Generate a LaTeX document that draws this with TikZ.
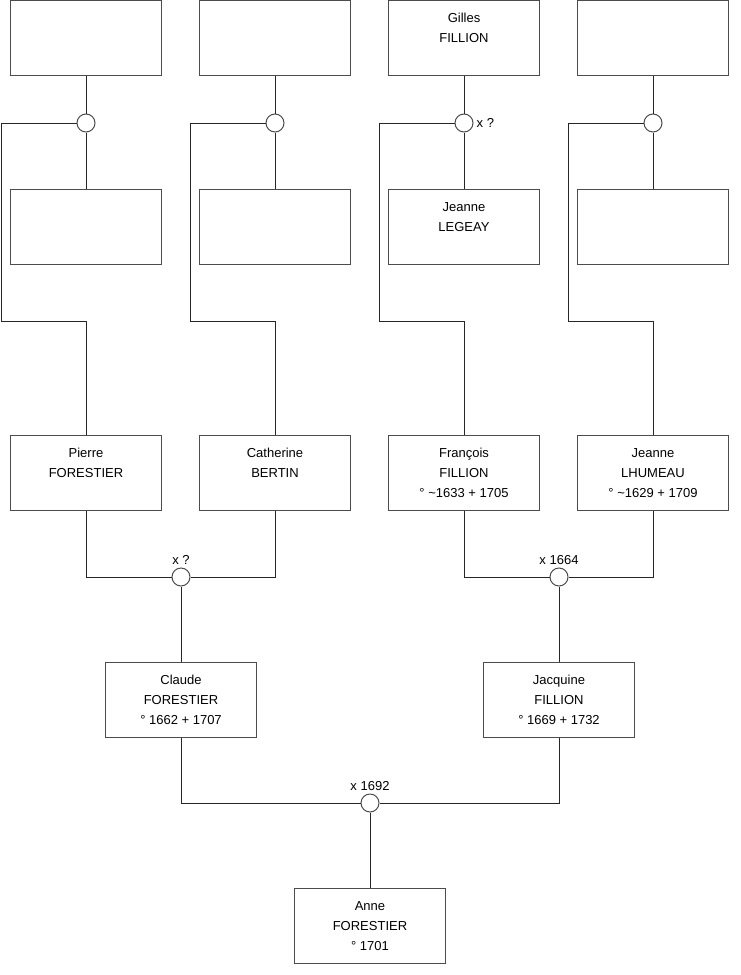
\documentclass[tikz,border=0pt]{standalone}
\usepackage{fontspec}
\setmainfont{Liberation Sans}
\usetikzlibrary{positioning}

\begin{document}
\begin{tikzpicture}[x=1pt,y=-1pt,
  person/.style={draw=black!70,line width=1pt,minimum width=151pt,minimum height=75pt,
    font=\fontsize{13}{20}\selectfont,align=center,inner sep=0pt},
  union/.style={circle,draw=black!70,fill=white,line width=1pt,minimum size=18pt,inner sep=0pt},
  link/.style={line width=1pt,black!85},
  wed/.style={font=\fontsize{13}{15}\selectfont,inner sep=3pt}
]
  \useasboundingbox (0,0) rectangle (740,975);
  % Great-grandparents
  \node[person] (g1) at (86,38) {};
  \node[person] (g2) at (275,38) {};
  \node[person] (g3) at (464,38) {Gilles\\FILLION\\~};
  \node[person] (g4) at (653,38) {};
  \node[person] (w1) at (86,227) {};
  \node[person] (w2) at (275,227) {};
  \node[person] (w3) at (464,227) {Jeanne\\LEGEAY\\~};
  \node[person] (w4) at (653,227) {};
  \node[union] (m1) at (86,123) {};
  \node[union] (m2) at (275,123) {};
  \node[union,label={[wed]right:x ?}] (m3) at (464,123) {};
  \node[union] (m4) at (653,123) {};
  % Grandparents
  \node[person] (pierre) at (86,473) {Pierre\\FORESTIER\\~};
  \node[person] (catherine) at (275,473) {Catherine\\BERTIN\\~};
  \node[person] (francois) at (464,473) {François\\FILLION\\° \textasciitilde1633 + 1705};
  \node[person] (jeanne) at (653,473) {Jeanne\\LHUMEAU\\° \textasciitilde1629 + 1709};
  \node[union,label={[wed]above:x ?}] (pm1) at (181,577) {};
  \node[union,label={[wed]above:x 1664}] (pm2) at (559,577) {};
  % Parents
  \node[person] (claude) at (181,700) {Claude\\FORESTIER\\° 1662 + 1707};
  \node[person] (jacquine) at (559,700) {Jacquine\\FILLION\\° 1669 + 1732};
  \node[union,label={[wed]above:x 1692}] (am) at (370,803) {};
  \node[person] (anne) at (370,926) {Anne\\FORESTIER\\° 1701};
  % Bends
  \coordinate (b1) at (1,321);
  \coordinate (b2) at (190,321);
  \coordinate (b3) at (379,321);
  \coordinate (b4) at (568,321);
  % Links
  \draw[link] (g1) -- (m1) -- (w1);
  \draw[link] (g2) -- (m2) -- (w2);
  \draw[link] (g3) -- (m3) -- (w3);
  \draw[link] (g4) -- (m4) -- (w4);
  \draw[link] (m1.west) -| (b1) -| (pierre.north);
  \draw[link] (m2.west) -| (b2) -| (catherine.north);
  \draw[link] (m3.west) -| (b3) -| (francois.north);
  \draw[link] (m4.west) -| (b4) -| (jeanne.north);
  \draw[link] (pierre.south) |- (pm1.west);
  \draw[link] (catherine.south) |- (pm1.east);
  \draw[link] (pm1) -- (claude);
  \draw[link] (francois.south) |- (pm2.west);
  \draw[link] (jeanne.south) |- (pm2.east);
  \draw[link] (pm2) -- (jacquine);
  \draw[link] (claude.south) |- (am.west);
  \draw[link] (jacquine.south) |- (am.east);
  \draw[link] (am) -- (anne);
\end{tikzpicture}
\end{document}
